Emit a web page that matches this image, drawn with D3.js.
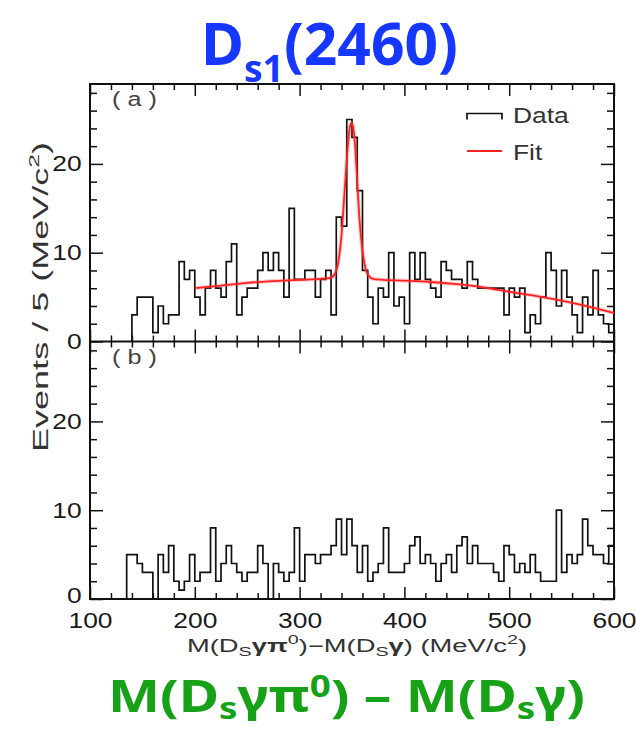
<!DOCTYPE html>
<html>
<head>
<meta charset="utf-8">
<script src="https://cdn.jsdelivr.net/npm/d3@7/dist/d3.min.js"></script>
<style>
  body { margin: 0; background: #fff; }
  svg { display: block; }
</style>
</head>
<body>
<svg id="chart" width="636" height="730"></svg>
<script>
// Bin lower edges (MeV/c^2), 5 MeV wide
const binsA = [140,145,150,155,160,165,170,175,180,185,190,195,200,205,210,215,220,225,230,235,
  240,245,250,255,260,265,270,275,280,285,290,295,300,305,310,315,320,325,330,335,
  340,345,350,355,360,365,370,375,380,385,390,395,400,405,410,415,420,425,430,435,
  440,445,450,455,460,465,470,475,480,485,490,495,500,505,510,515,520,525,530,535,
  540,545,550,555,560,565,570,575,580,585,590,595];
// Panel (a): events per bin
const eventsA = [3,5,5,5,1,4,2,3,3,9,7,8,5,3,6,8,6,5,9,11,
  3,5,6,6,8,10,8,10,8,5,15,7,7,8,8,5,7,8,3,14,
  13,25,23,17,8,5,2,6,5,10,4,5,2,10,7,10,7,6,5,9,
  8,7,7,6,9,7,6,6,6,6,6,3,6,5,6,1,3,2,5,10,
  8,4,8,5,3,1,5,3,8,3,2,1];

const binsB = [135,140,145,150,155,160,165,170,175,180,185,190,195,200,205,210,215,220,225,230,
  235,240,245,250,255,260,265,270,275,280,285,290,295,300,305,310,315,320,325,330,
  335,340,345,350,355,360,365,370,375,380,385,390,395,400,405,410,415,420,425,430,
  435,440,445,450,455,460,465,470,475,480,485,490,495,500,505,510,515,520,525,530,
  535,540,545,550,555,560,565,570,575,580,585,590,595];
// Panel (b): events per bin
const eventsB = [5,5,4,3,3,0,5,3,6,2,1,2,5,2,3,3,8,2,4,6,
  4,3,2,3,3,6,4,0,4,3,2,3,8,2,5,5,4,5,5,6,
  9,5,9,6,3,6,2,3,4,8,3,3,3,4,6,7,4,5,4,2,
  4,5,3,6,7,4,6,4,4,4,3,2,6,5,3,4,3,5,3,2,
  2,2,10,3,5,4,5,9,6,5,5,4,6];

// Fit curve for panel (a)
const fitMass = [200,225,250,275,300,320,330,334,337,340,343,346,348,349.5,351,353,355,357,360,363,366,370,380,400,425,450,475,500,525,550,575,600];
const fitEvents = [6.0,6.3,6.6,6.8,6.95,7.05,7.2,7.7,9.0,12.0,17.0,22.0,24.2,24.6,24.2,22.0,18.0,14.0,10.2,8.2,7.4,7.05,6.95,6.85,6.7,6.45,6.1,5.6,5.15,4.6,3.95,3.2];

// Axis ticks
const xMajor = [100,200,300,400,500,600];
const xMinor = [120,140,160,180,220,240,260,280,320,340,360,380,420,440,460,480,520,540,560,580];
const yMajor = [0,10,20];
const yMinor = [2,4,6,8,12,14,16,18,22,24,26,28];

const svg = d3.select("#chart");
const textColor = "#1a1a1a";
const figFont = "'Liberation Sans', Arial, Helvetica, sans-serif";

const xLeft = 90, xRight = 614;
const panels = [
  { top: 84, bottom: 341.5, bins: binsA, values: eventsA, label: "( a )", id: "a" },
  { top: 341.5, bottom: 599, bins: binsB, values: eventsB, label: "( b )", id: "b" }
];

const x = d3.scaleLinear().domain([100, 600]).range([xLeft, xRight]);

panels.forEach((p, pi) => {
  const y = d3.scaleLinear().domain([0, 29]).range([p.bottom, p.top]);
  p.y = y;
  const g = svg.append("g");

  svg.append("clipPath").attr("id", "clip-" + p.id)
    .append("rect").attr("x", xLeft).attr("y", p.top)
    .attr("width", xRight - xLeft).attr("height", p.bottom - p.top);

  // step histogram
  const pts = [[p.bins[0], 0]];
  p.bins.forEach((b, k) => pts.push([b, p.values[k]]));
  pts.push([p.bins[p.bins.length - 1] + 5, p.values[p.values.length - 1]]);
  const step = d3.line().x(d => x(d[0])).y(d => y(d[1])).curve(d3.curveStepAfter);
  g.append("path").attr("d", step(pts))
    .attr("clip-path", `url(#clip-${p.id})`)
    .attr("fill", "none").attr("stroke", "#111").attr("stroke-width", 1.7)
    .attr("stroke-linejoin", "miter");

  // inward ticks on all four sides
  const tickStyle = sel => {
    sel.select(".domain").remove();
    sel.selectAll("line").attr("stroke", "#111").attr("stroke-width", 1.5);
    sel.selectAll("text").remove();
  };
  [[xMajor, 12], [xMinor, 6]].forEach(([vals, len]) => {
    g.append("g").attr("transform", `translate(0,${p.bottom})`)
      .call(d3.axisBottom(x).tickValues(vals).tickSize(-len)).call(tickStyle);
    g.append("g").attr("transform", `translate(0,${p.top})`)
      .call(d3.axisTop(x).tickValues(vals).tickSize(-len)).call(tickStyle);
  });
  [[yMajor, 13], [yMinor, 7]].forEach(([vals, len]) => {
    g.append("g").attr("transform", `translate(${xLeft},0)`)
      .call(d3.axisLeft(y).tickValues(vals).tickSize(-len)).call(tickStyle);
    g.append("g").attr("transform", `translate(${xRight},0)`)
      .call(d3.axisRight(y).tickValues(vals).tickSize(-len)).call(tickStyle);
  });

  // y tick labels (the lowest one of the bottom panel sits a little higher)
  g.append("g").attr("transform", `translate(${xLeft},0)`)
    .call(d3.axisLeft(y).tickValues(yMajor).tickSize(0).tickPadding(7))
    .call(sel => {
      sel.select(".domain").remove();
      sel.selectAll("text")
        .attr("font-family", figFont).attr("font-size", 22)
        .attr("fill", textColor)
        .attr("transform", d => (pi === 1 && d === 0) ? "translate(0,-4) scale(1.2,1)" : "scale(1.2,1)");
    });

  // panel tag
  g.append("text").attr("transform", `translate(112,${p.top + 22}) scale(1.2,1)`)
    .attr("font-family", figFont).attr("font-size", 21).attr("fill", "#444")
    .text(p.label);
});

// frame
svg.append("rect").attr("x", xLeft).attr("y", panels[0].top)
  .attr("width", xRight - xLeft).attr("height", panels[1].bottom - panels[0].top)
  .attr("fill", "none").attr("stroke", "#111").attr("stroke-width", 2);
svg.append("line").attr("x1", xLeft).attr("x2", xRight)
  .attr("y1", panels[0].bottom).attr("y2", panels[0].bottom)
  .attr("stroke", "#111").attr("stroke-width", 2);

// fit curve (panel a)
const yA = panels[0].y;
const fitLine = d3.line().x((d, k) => x(fitMass[k])).y(d => yA(d)).curve(d3.curveMonotoneX);
svg.append("path").attr("d", fitLine(fitEvents))
  .attr("fill", "none").attr("stroke", "#ff4040").attr("stroke-width", 4).attr("opacity", 0.25);
svg.append("path").attr("d", fitLine(fitEvents))
  .attr("fill", "none").attr("stroke", "#ff2020").attr("stroke-width", 1.8);

// legend
const legend = svg.append("g");
const legendPath = d3.path();
legendPath.moveTo(467, 119.5); legendPath.lineTo(467, 113.5);
legendPath.lineTo(502, 113.5); legendPath.lineTo(502, 119.5);
legend.append("path").attr("d", legendPath.toString())
  .attr("fill", "none").attr("stroke", "#111").attr("stroke-width", 1.7);
legend.append("line").attr("x1", 467).attr("x2", 502).attr("y1", 151).attr("y2", 151)
  .attr("stroke", "#ff2020").attr("stroke-width", 1.8);
legend.append("text").attr("transform", "translate(513,123) scale(1.2,1)")
  .attr("font-family", figFont).attr("font-size", 22).attr("fill", "#333").text("Data");
legend.append("text").attr("transform", "translate(513,160) scale(1.2,1)")
  .attr("font-family", figFont).attr("font-size", 22).attr("fill", "#333").text("Fit");

// x tick labels
svg.append("g").attr("transform", `translate(0,${panels[1].bottom})`)
  .call(d3.axisBottom(x).tickValues(xMajor).tickSize(0).tickPadding(13))
  .call(sel => {
    sel.select(".domain").remove();
    sel.selectAll("text")
      .attr("font-family", figFont).attr("font-size", 22)
      .attr("fill", textColor)
      .attr("transform", "scale(1.2,1)");
  });

// x axis title
const xt = svg.append("text").attr("x", 187).attr("y", 652)
  .attr("font-family", figFont).attr("font-size", 18).attr("fill", "#333")
  .attr("textLength", 340).attr("lengthAdjust", "spacingAndGlyphs");
xt.append("tspan").text("M(D");
xt.append("tspan").attr("font-size", 13).attr("dy", 4).text("S");
xt.append("tspan").attr("dy", -4).attr("font-weight", "bold").text("γπ");
xt.append("tspan").attr("font-size", 13).attr("dy", -8).text("0");
xt.append("tspan").attr("dy", 8).text(")−M(D");
xt.append("tspan").attr("font-size", 13).attr("dy", 4).text("S");
xt.append("tspan").attr("dy", -4).attr("font-weight", "bold").text("γ");
xt.append("tspan").text(") (MeV/c");
xt.append("tspan").attr("font-size", 13).attr("dy", -8).text("2");
xt.append("tspan").attr("dy", 8).text(")");

// y axis title
const yt = svg.append("text").attr("transform", "translate(48,297) rotate(-90)")
  .attr("text-anchor", "middle")
  .attr("font-family", figFont).attr("font-size", 22).attr("fill", "#333")
  .attr("textLength", 310).attr("lengthAdjust", "spacingAndGlyphs");
yt.append("tspan").text("Events / 5 (MeV/c");
yt.append("tspan").attr("font-size", 15).attr("dy", -9).text("2");
yt.append("tspan").attr("dy", 9).text(")");

// headline
const titleFont = "'Noto Sans', 'DejaVu Sans', sans-serif";
const blue = "#1537ff";
const tt = svg.append("text").attr("x", 201).attr("y", 65)
  .attr("font-family", titleFont).attr("font-weight", "bold").attr("font-size", 60)
  .attr("fill", blue).attr("textLength", 257).attr("lengthAdjust", "spacingAndGlyphs");
tt.append("tspan").text("D");
tt.append("tspan").attr("font-size", 38).attr("dy", 17).text("s1");
tt.append("tspan").attr("dy", -17).text("(2460)");

// bottom caption
const green = "#17a117";
const gt = svg.append("text").attr("x", 108).attr("y", 712)
  .attr("font-family", titleFont).attr("font-weight", "bold").attr("font-size", 45)
  .attr("fill", green).attr("textLength", 477).attr("lengthAdjust", "spacingAndGlyphs");
gt.append("tspan").text("M(D");
gt.append("tspan").attr("font-size", 30).attr("dy", 7).text("s");
gt.append("tspan").attr("dy", -7).text("γπ");
gt.append("tspan").attr("font-size", 30).attr("dy", -15).text("0");
gt.append("tspan").attr("dy", 15).text(") – M(D");
gt.append("tspan").attr("font-size", 30).attr("dy", 7).text("s");
gt.append("tspan").attr("dy", -7).text("γ)");
</script>
</body>
</html>
